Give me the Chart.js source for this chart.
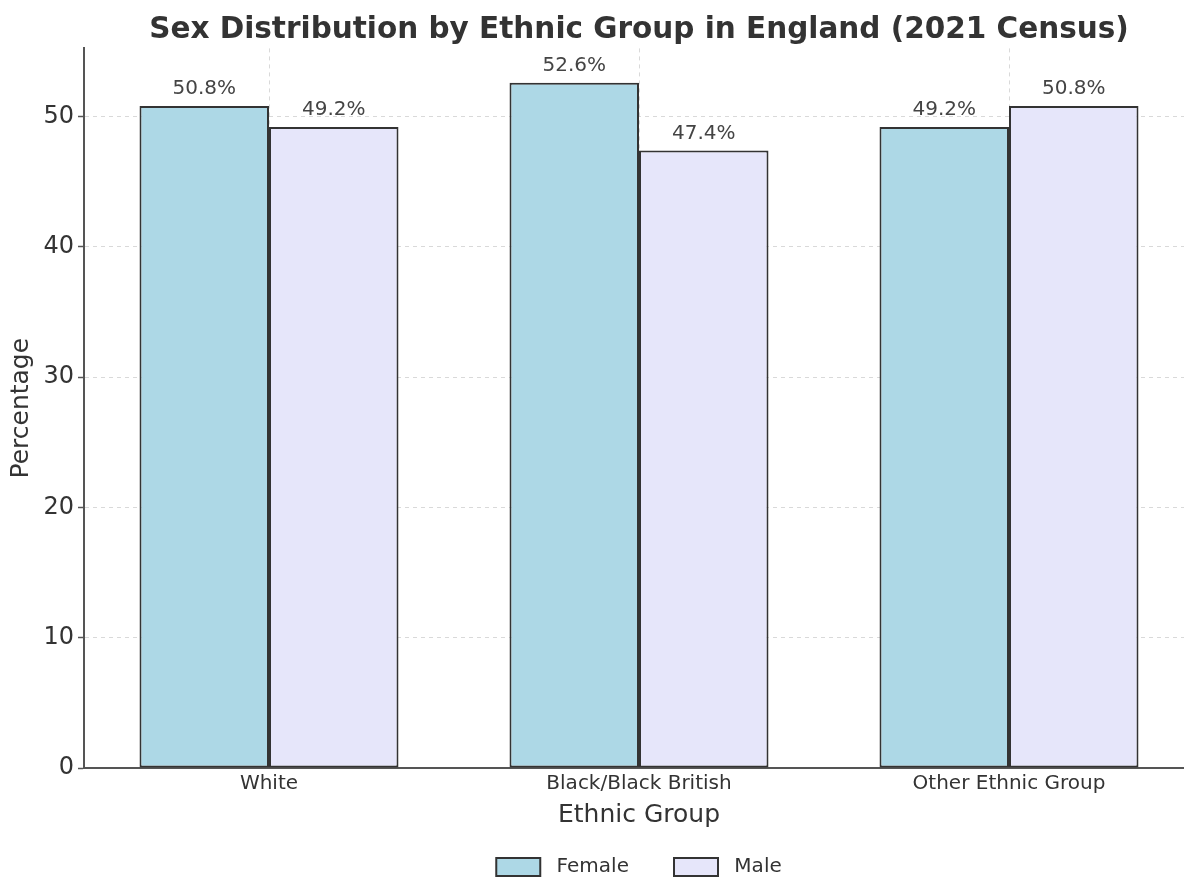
<!DOCTYPE html>
<html>
<head>
<meta charset="utf-8">
<script src="https://cdn.jsdelivr.net/npm/chart.js@4.4.1/dist/chart.umd.min.js"></script>
<style>
  html, body { margin: 0; padding: 0; background: #fff; overflow: hidden; }
  #wrap { width: 1278px; height: 879px; position: relative; }
</style>
</head>
<body>
<div id="wrap"><canvas id="grafica"></canvas></div>
<script>
// datos del gráfico
const categorias = ['White', 'Black/Black British', 'Other Ethnic Group'];
const mujeres = [50.8, 52.6, 49.2];
const hombres = [49.2, 47.4, 50.8];
const ticksY = [0, 10, 20, 30, 40, 50];
const maxY = 55.23;

const fuente = 'DejaVu Sans';

// etiquetas de porcentaje encima de cada barra
const etiquetasBarras = {
    id: 'etiquetasBarras',
    afterDatasetsDraw(chart) {
        const ctx = chart.ctx;
        ctx.save();
        ctx.font = '20px "' + fuente + '"';
        ctx.fillStyle = '#444';
        ctx.textAlign = 'center';
        ctx.textBaseline = 'bottom';
        chart.data.datasets.forEach((ds, i) => {
            chart.getDatasetMeta(i).data.forEach((barra, j) => {
                ctx.fillText(ds.data[j].toFixed(1) + '%', barra.x, barra.y - 7);
            });
        });
        ctx.restore();
    }
};

const ctx = document.getElementById('grafica').getContext('2d');
new Chart(ctx, {
    type: 'bar',
    data: {
        labels: categorias,
        datasets: [{
            label: 'Female',
            data: mujeres,
            backgroundColor: '#ADD8E6',
            borderColor: '#333',
            borderWidth: 2,
            borderSkipped: false
        }, {
            label: 'Male',
            data: hombres,
            backgroundColor: '#E6E6FA',
            borderColor: '#333',
            borderWidth: 2,
            borderSkipped: false
        }]
    },
    options: {
        responsive: true,
        maintainAspectRatio: false,
        animation: false,
        layout: { padding: { top: 0, left: 0, right: 0, bottom: -8 } },
        datasets: { bar: { categoryPercentage: 0.7, barPercentage: 1.0 } },
        plugins: {
            tooltip: { enabled: false },
            title: {
                display: true,
                text: 'Sex Distribution by Ethnic Group in England (2021 Census)',
                color: '#333',
                font: { family: fuente, size: 29.5, weight: 'bold' },
                padding: { top: 13, bottom: 0 }
            },
            legend: {
                position: 'bottom',
                labels: {
                    color: '#333',
                    font: { family: fuente, size: 20 },
                    boxWidth: 44,
                    boxHeight: 18,
                    padding: 26,
                    generateLabels(chart) {
                        const items = Chart.defaults.plugins.legend.labels.generateLabels(chart);
                        // un poco de aire entre la caja y el texto, y entre elementos
                        items.forEach((it, i) => {
                            it.text = ' ' + it.text + (i < items.length - 1 ? '   ' : '');
                        });
                        return items;
                    }
                }
            }
        },
        scales: {
            x: {
                grid: {
                    offset: false,
                    color: 'rgba(0, 0, 0, 0.15)',
                    lineWidth: 1,
                    drawTicks: false
                },
                border: { display: true, color: '#555', width: 2, dash: [4, 4] },
                ticks: {
                    color: '#333',
                    font: { family: fuente, size: 20 },
                    padding: 4
                },
                title: {
                    display: true,
                    text: 'Ethnic Group',
                    color: '#333',
                    font: { family: fuente, size: 25 },
                    padding: { top: 0, bottom: 1 }
                }
            },
            y: {
                min: 0,
                max: maxY,
                afterBuildTicks(scale) {
                    scale.ticks = ticksY.map(v => ({ value: v }));
                },
                afterFit(scale) {
                    scale.width = 84;
                },
                grid: {
                    color: 'rgba(0, 0, 0, 0.15)',
                    lineWidth: 1,
                    tickLength: 6,
                    tickColor: '#555',
                    tickWidth: 1.5
                },
                border: { display: true, color: '#555', width: 2, dash: [4, 4] },
                ticks: {
                    color: '#333',
                    font: { family: fuente, size: 24 },
                    padding: 4
                },
                title: {
                    display: true,
                    text: 'Percentage',
                    color: '#333',
                    font: { family: fuente, size: 25 },
                    padding: { top: 6, bottom: 0 }
                }
            },
            // eje vacío a la derecha para centrar título y leyenda sobre el área
            derecha: {
                position: 'right',
                display: true,
                grid: { display: false, drawTicks: false },
                border: { display: false },
                ticks: { display: false },
                afterFit(scale) {
                    scale.width = 84;
                }
            }
        }
    },
    plugins: [etiquetasBarras]
});
</script>
</body>
</html>
